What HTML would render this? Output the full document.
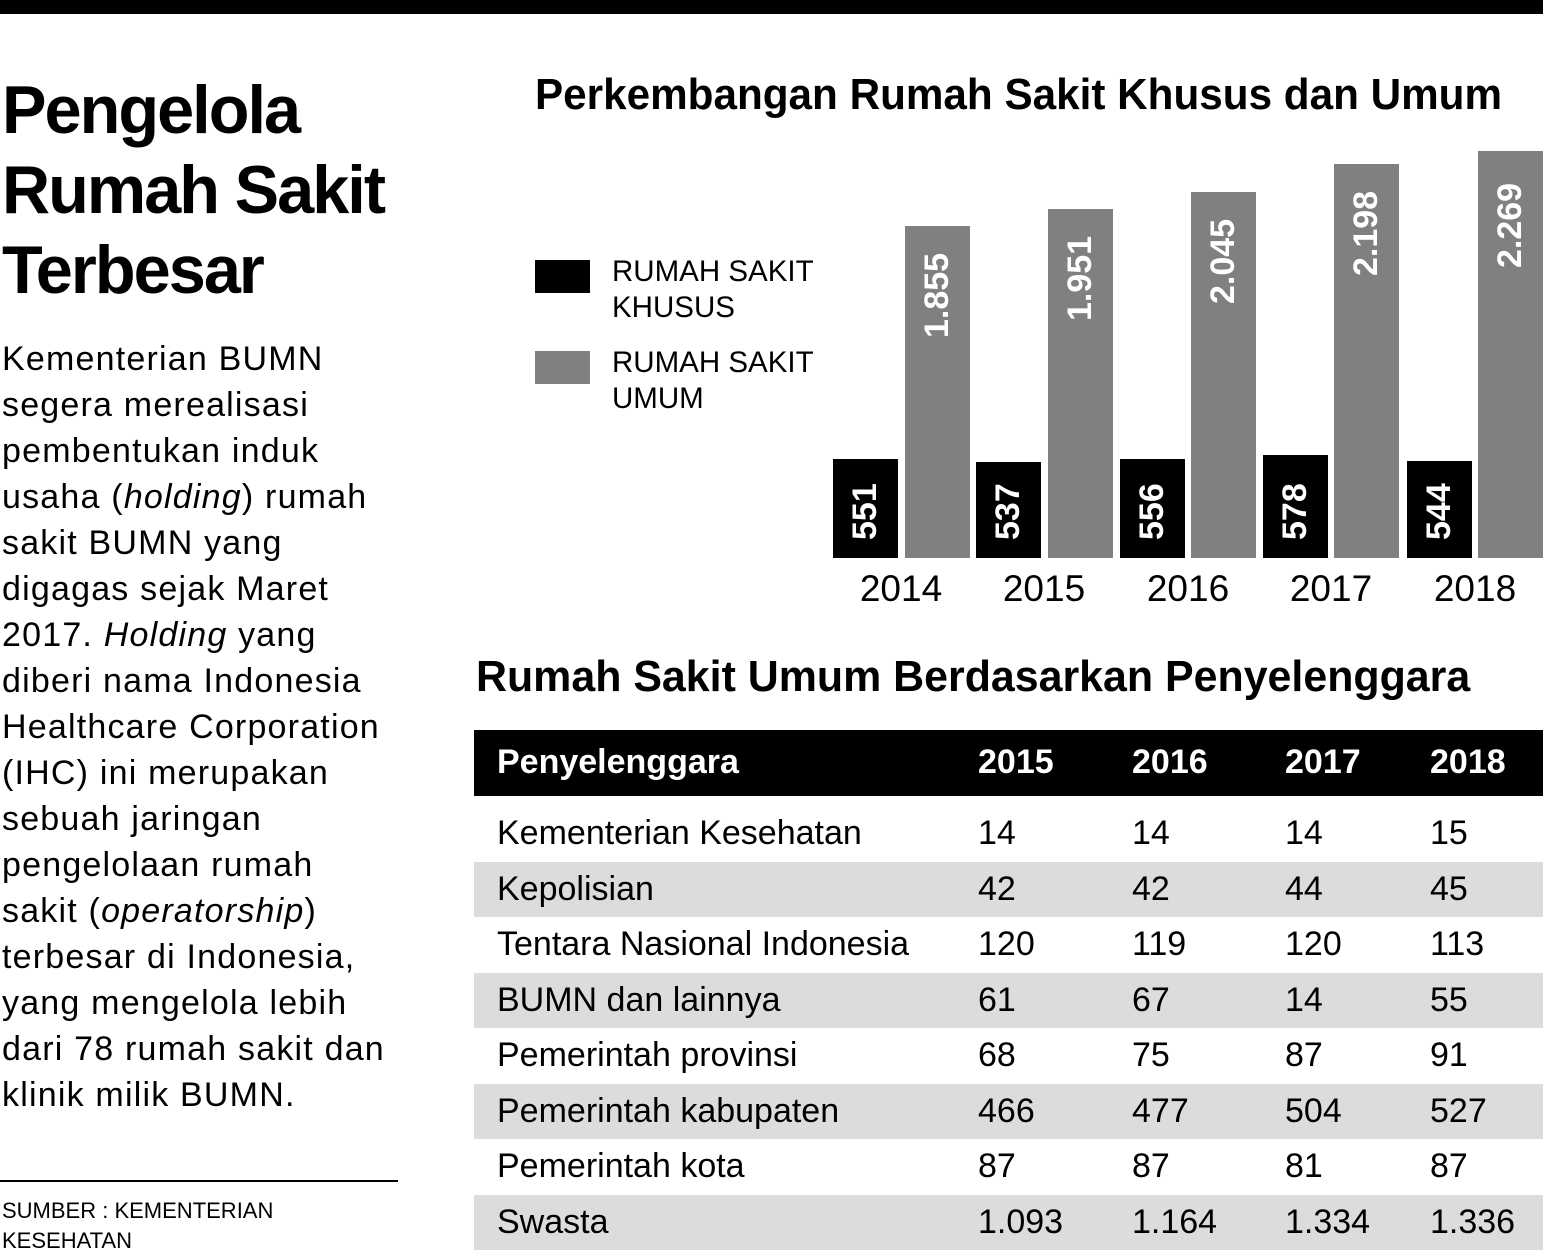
<!DOCTYPE html>
<html><head><meta charset="utf-8"><style>
body{margin:0;width:1543px;height:1251px;background:#fff;position:relative;overflow:hidden;font-family:"Liberation Sans",sans-serif;color:#000}
.a{position:absolute;white-space:nowrap}
.t{font-weight:bold;font-size:68px;line-height:80px;left:2px;top:70px;letter-spacing:-2px;transform:scaleX(0.98);transform-origin:left top}
.body{left:2px;top:336px;font-family:"Liberation Sans",sans-serif;font-size:34px;line-height:46px;letter-spacing:1.2px}
.bar{position:absolute}
.k{background:#000}.u{background:#808080}
.v{position:absolute;color:#fff;font-weight:bold;font-family:"Liberation Sans",sans-serif;font-size:34px;transform:rotate(-90deg);transform-origin:left top;white-space:nowrap}
.yr{font-size:37px;top:568px;width:120px;text-align:center}
.row{position:absolute;left:474px;width:1069px;height:55px;font-size:34px;line-height:55px}
.row span{position:absolute}
.g{background:#dcdcdc}
</style></head><body>
<div class="a" style="left:0;top:0;width:1543px;height:14px;background:#000"></div>
<div class="a t">Pengelola<br>Rumah Sakit<br>Terbesar</div>
<div class="a body">Kementerian BUMN<br>segera merealisasi<br>pembentukan induk<br>usaha (<i>holding</i>) rumah<br>sakit BUMN yang<br>digagas sejak Maret<br>2017. <i>Holding</i> yang<br>diberi nama Indonesia<br>Healthcare Corporation<br>(IHC) ini merupakan<br>sebuah jaringan<br>pengelolaan rumah<br>sakit (<i>operatorship</i>)<br>terbesar di Indonesia,<br>yang mengelola lebih<br>dari 78 rumah sakit dan<br>klinik milik BUMN.</div>
<div class="a" style="left:0;top:1180px;width:398px;height:2px;background:#000"></div>
<div class="a" style="left:2px;top:1196px;font-size:22px;line-height:30px">SUMBER : KEMENTERIAN<br>KESEHATAN</div>

<div class="a" style="left:535px;top:70px;font-size:44px;font-weight:bold;transform:scaleX(0.96);transform-origin:left top">Perkembangan Rumah Sakit Khusus dan Umum</div>
<div class="bar k" style="left:535px;top:260px;width:55px;height:33px"></div>
<div class="bar u" style="left:535px;top:351px;width:55px;height:33px"></div>
<div class="a" style="left:612px;top:254px;font-size:29.5px;line-height:36px">RUMAH SAKIT<br>KHUSUS</div>
<div class="a" style="left:612px;top:345px;font-size:29.5px;line-height:36px">RUMAH SAKIT<br>UMUM</div>

<div class="bar k" style="left:833px;top:459px;width:65px;height:99px"></div>
<div class="bar u" style="left:905px;top:226px;width:65px;height:332px"></div>
<div class="bar k" style="left:976px;top:462px;width:65px;height:96px"></div>
<div class="bar u" style="left:1048px;top:209px;width:65px;height:349px"></div>
<div class="bar k" style="left:1120px;top:459px;width:65px;height:99px"></div>
<div class="bar u" style="left:1191px;top:192px;width:65px;height:366px"></div>
<div class="bar k" style="left:1263px;top:455px;width:65px;height:103px"></div>
<div class="bar u" style="left:1334px;top:164px;width:65px;height:394px"></div>
<div class="bar k" style="left:1407px;top:461px;width:65px;height:97px"></div>
<div class="bar u" style="left:1478px;top:151px;width:65px;height:407px"></div>

<div class="v" style="left:846px;top:540px">551</div>
<div class="v" style="left:989px;top:540px">537</div>
<div class="v" style="left:1133px;top:540px">556</div>
<div class="v" style="left:1276px;top:540px">578</div>
<div class="v" style="left:1420px;top:540px">544</div>
<div class="v" style="left:918px;top:338px">1.855</div>
<div class="v" style="left:1061px;top:321px">1.951</div>
<div class="v" style="left:1204px;top:304px">2.045</div>
<div class="v" style="left:1347px;top:276px">2.198</div>
<div class="v" style="left:1491px;top:268px">2.269</div>

<div class="a yr" style="left:841px">2014</div>
<div class="a yr" style="left:984px">2015</div>
<div class="a yr" style="left:1128px">2016</div>
<div class="a yr" style="left:1271px">2017</div>
<div class="a yr" style="left:1415px">2018</div>

<div class="a" style="left:476px;top:652px;font-size:44px;font-weight:bold;transform:scaleX(0.975);transform-origin:left top">Rumah Sakit Umum Berdasarkan Penyelenggara</div>
<div class="row" style="top:730px;height:66px;line-height:64px;background:#000;color:#fff;font-weight:bold"><span style="left:23px">Penyelenggara</span><span style="left:504px">2015</span><span style="left:658px">2016</span><span style="left:811px">2017</span><span style="left:956px">2018</span></div>
<div class="row" style="top:806px"><span style="left:23px">Kementerian Kesehatan</span><span style="left:504px">14</span><span style="left:658px">14</span><span style="left:811px">14</span><span style="left:956px">15</span></div>
<div class="row g" style="top:862px"><span style="left:23px">Kepolisian</span><span style="left:504px">42</span><span style="left:658px">42</span><span style="left:811px">44</span><span style="left:956px">45</span></div>
<div class="row" style="top:917px"><span style="left:23px">Tentara Nasional Indonesia</span><span style="left:504px">120</span><span style="left:658px">119</span><span style="left:811px">120</span><span style="left:956px">113</span></div>
<div class="row g" style="top:973px"><span style="left:23px">BUMN dan lainnya</span><span style="left:504px">61</span><span style="left:658px">67</span><span style="left:811px">14</span><span style="left:956px">55</span></div>
<div class="row" style="top:1028px"><span style="left:23px">Pemerintah provinsi</span><span style="left:504px">68</span><span style="left:658px">75</span><span style="left:811px">87</span><span style="left:956px">91</span></div>
<div class="row g" style="top:1084px"><span style="left:23px">Pemerintah kabupaten</span><span style="left:504px">466</span><span style="left:658px">477</span><span style="left:811px">504</span><span style="left:956px">527</span></div>
<div class="row" style="top:1139px"><span style="left:23px">Pemerintah kota</span><span style="left:504px">87</span><span style="left:658px">87</span><span style="left:811px">81</span><span style="left:956px">87</span></div>
<div class="row g" style="top:1195px"><span style="left:23px">Swasta</span><span style="left:504px">1.093</span><span style="left:658px">1.164</span><span style="left:811px">1.334</span><span style="left:956px">1.336</span></div>
</body></html>
